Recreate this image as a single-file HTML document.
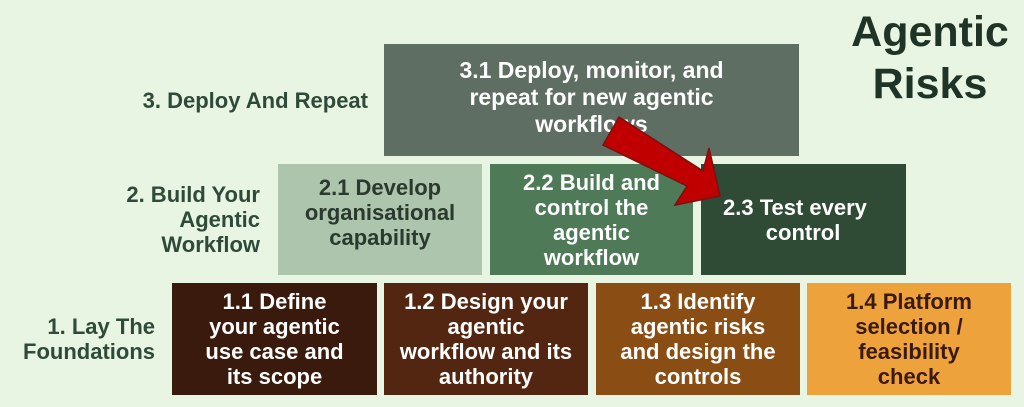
<!DOCTYPE html>
<html><head><style>
body{margin:0;width:1024px;height:407px;background:#e8f5e2;position:relative;overflow:hidden;font-family:"Liberation Sans",sans-serif;font-weight:bold}
.b{position:absolute;display:flex;align-items:center;justify-content:center;text-align:center;color:#fff;font-size:22px;line-height:25px;box-sizing:border-box;padding:0 6px}
.l{position:absolute;text-align:right;color:#2f4a3a;font-size:22px;line-height:25px}
</style></head><body>
<div style="position:absolute;left:835px;top:6px;width:190px;text-align:center;color:#1f3326;font-size:43px;line-height:52px">Agentic<br>Risks</div>
<div class="l" style="left:60px;top:88px;width:308px">3. Deploy And Repeat</div>
<div class="l" style="left:60px;top:182px;width:200px">2. Build Your<br>Agentic<br>Workflow</div>
<div class="l" style="left:0;top:314px;width:155px">1. Lay The<br>Foundations</div>
<div class="b" style="left:384px;top:44px;width:415px;height:112px;background:#5f6e62;font-size:23px;line-height:27px;padding-bottom:6px">3.1 Deploy, monitor, and<br>repeat for new agentic<br>workflows</div>
<div class="b" style="left:278px;top:164px;width:204px;height:111px;background:#adc4ad;color:#2a3a2e;padding-bottom:14px">2.1 Develop<br>organisational<br>capability</div>
<div class="b" style="left:490px;top:164px;width:203px;height:111px;background:#4e7a57">2.2 Build and<br>control the<br>agentic<br>workflow</div>
<div class="b" style="left:701px;top:164px;width:205px;height:111px;background:#2f4a35;justify-content:flex-start;padding-left:22px;text-align:left">2.3 Test every<br>&nbsp;&nbsp;&nbsp;&nbsp;&nbsp;&nbsp;&nbsp;control</div>
<div class="b" style="left:172px;top:283px;width:205px;height:112px;background:#3a1a0c">1.1 Define<br>your agentic<br>use case and<br>its scope</div>
<div class="b" style="left:384px;top:283px;width:204px;height:112px;background:#532612">1.2 Design your<br>agentic<br>workflow and its<br>authority</div>
<div class="b" style="left:596px;top:283px;width:204px;height:112px;background:#8a4e14">1.3 Identify<br>agentic risks<br>and design the<br>controls</div>
<div class="b" style="left:807px;top:283px;width:204px;height:112px;background:#eda23c;color:#3a1a0c">1.4 Platform<br>selection /<br>feasibility<br>check</div>
<svg style="position:absolute;left:0;top:0" width="1024" height="407">
<polygon points="619,117 703,171 709,148 720,196 675,205 687,186 603,145" fill="#c00000" stroke="#7a1010" stroke-width="1.5"/>
</svg>
</body></html>
